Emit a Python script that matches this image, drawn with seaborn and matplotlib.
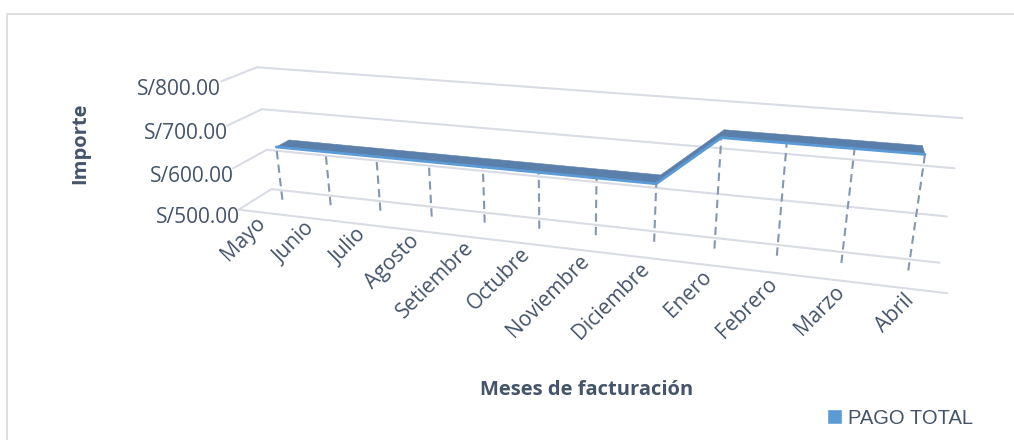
import numpy as np
import matplotlib
matplotlib.use("Agg")
import matplotlib.pyplot as plt
import seaborn as sns
from matplotlib.patches import Rectangle, Patch

# datos
meses = ["Mayo", "Junio", "Julio", "Agosto", "Setiembre", "Octubre",
         "Noviembre", "Diciembre", "Enero", "Febrero", "Marzo", "Abril"]
pago_total = [630, 630, 630, 630, 630, 630, 630, 630, 740, 740, 740, 740]
serie = "PAGO TOTAL"
ticks_importe = [500, 600, 700, 800]
etiquetas_importe = ["S/500.00", "S/600.00", "S/700.00", "S/800.00"]

sns.set_theme(style="white")
plt.rcParams["font.family"] = ["Open Sans", "DejaVu Sans"]

txt = "#44546a"
grid_c = "#d9dce5"
drop_c = "#8497b0"
top_c = "#5a7fab"
edge_c = "#5b9bd5"

fig = plt.figure(figsize=(10.14, 4.4), dpi=100)
ax = fig.add_axes([0.052, 0.104, 1.0, 1.0], projection="3d", computed_zorder=False)

x = np.arange(len(meses))
y = np.array(pago_total, dtype=float)
xmin, xmax = -0.5, len(meses) - 0.5
ax.set_xlim(xmin, xmax)
ax.set_ylim(0, 1)
ax.set_zlim(500, 800)
ax.set_box_aspect((11.3, 1.0, 2.25), zoom=1.64)
ax.view_init(elev=20, azim=-74.5)
ax.set_proj_type("persp", focal_length=0.38)

# paneles y ejes invisibles
for a in (ax.xaxis, ax.yaxis, ax.zaxis):
    a.set_pane_color((1, 1, 1, 0))
    a.line.set_color((1, 1, 1, 0))
ax.grid(False)

# lineas de division: pared de fondo y pared izquierda
for t in ticks_importe:
    ax.plot([xmin, xmax], [1, 1], [t, t], color=grid_c, lw=1.5, zorder=1)
    ax.plot([xmin, xmin], [0, 1], [t, t], color=grid_c, lw=1.5, zorder=1)
ax.plot([xmin, xmax], [0, 0], [500, 500], color=grid_c, lw=1.5, zorder=1)

# lineas de caida
yf, yb = 0.6, 1.0
for xi, vi in zip(x, y):
    ax.plot([xi, xi], [yf, yf], [500, vi], color=drop_c, lw=1.5,
            linestyle=(0, (4, 2.5)), zorder=2)

# cinta de la linea 3D
X = np.vstack([x, x])
Y = np.vstack([np.full_like(y, yf), np.full_like(y, yb)])
Z = np.vstack([y, y])
ax.plot_surface(X, Y, Z, color=top_c, shade=False, linewidth=0.4,
                edgecolor=top_c, zorder=3)
ax.plot(x, np.full_like(y, yf), y, color=edge_c, lw=2, zorder=4)

for art in ax.lines + ax.collections:
    art.set_clip_on(False)

# ticks
ax.set_xticks(x)
ax.set_xticklabels(meses, rotation=45, ha="right", va="center",
                   rotation_mode="anchor", color=txt, fontsize=15)
ax.set_yticks([])
ax.set_zticks(ticks_importe)
ax.set_zticklabels(etiquetas_importe, color=txt, fontsize=15)
ax.zaxis.set_ticks_position("lower")
ax.tick_params(axis="x", pad=0, color=(1, 1, 1, 0))
ax.tick_params(axis="z", pad=3, color=(1, 1, 1, 0))

fig.text(0.079, 0.675, "Importe", rotation=90, ha="center", va="center",
         fontsize=14.5, fontweight="bold", color=txt)
fig.text(0.579, 0.114, "Meses de facturación", ha="center", va="center",
         fontsize=14.5, fontweight="bold", color=txt)

fig.legend(handles=[Patch(facecolor=edge_c, label=serie)], loc="center left",
           bbox_to_anchor=(0.798, 0.05), frameon=False,
           handlelength=0.75, handleheight=0.75, handletextpad=0.3,
           labelcolor=txt, prop={"family": ["Liberation Sans"], "size": 14.5})

fig.patches.append(Rectangle((7 / 1014, -0.1), 1.1, 1 - 14 / 440 + 0.1,
                             transform=fig.transFigure, fill=False,
                             edgecolor="#d9d9d9", lw=1.2))

fig.savefig("out.png", dpi=100)
